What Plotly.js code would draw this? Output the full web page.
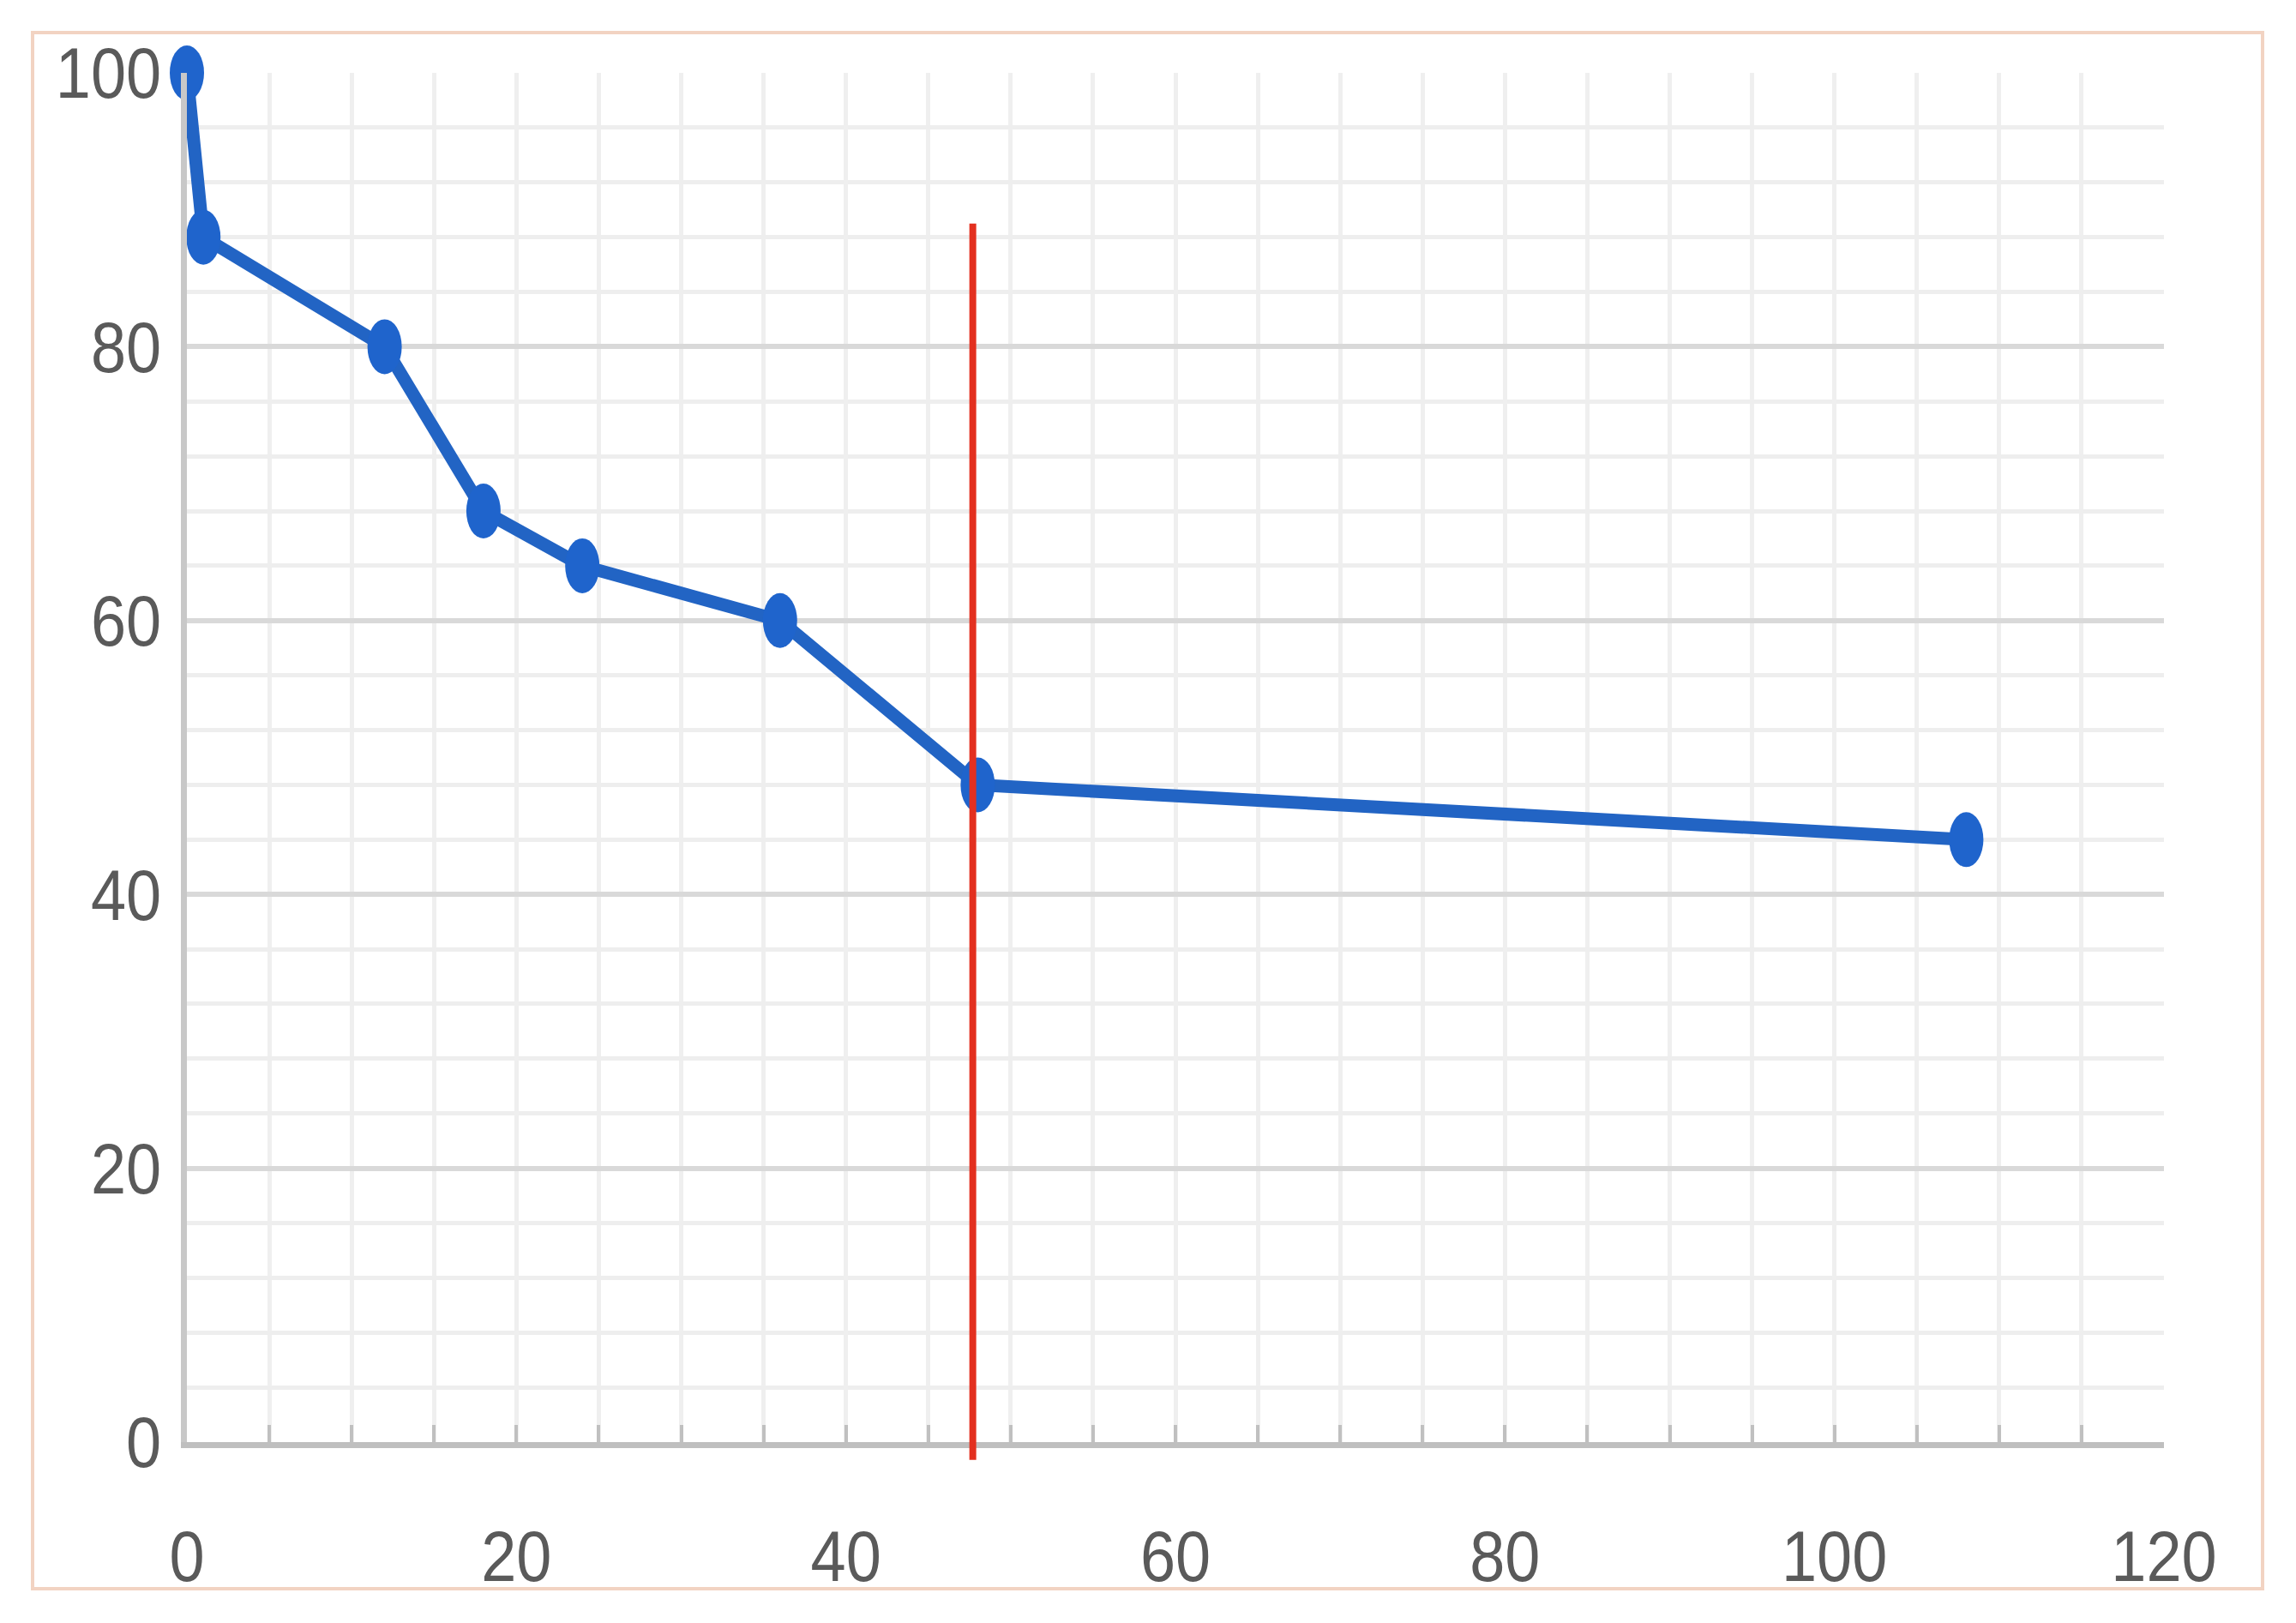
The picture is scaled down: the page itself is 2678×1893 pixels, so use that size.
<!DOCTYPE html>
<html>
<head>
<meta charset="utf-8">
<script src="https://cdn.plot.ly/plotly-3.0.1.min.js"></script>
<style>
  html, body { margin: 0; padding: 0; background: #ffffff; }
  #chart { width: 2678px; height: 1893px; }
</style>
</head>
<body>
<div id="chart"></div>
<script>
// values
const hours = [0, 1, 12, 18, 24, 36, 48, 108];
const percent = [100, 88, 80, 68, 64, 60, 48, 44];
const cutX = [47.7, 47.7];
const cutY = [-1.3, 89];
const xTicks = [0, 20, 40, 60, 80, 100, 120];
const yTicks = [0, 20, 40, 60, 80, 100];
const xMax = 120, yMax = 100;

// page geometry (pixels)
const W = 2678, H = 1893;
const M = { l: 218, r: 154, t: 85, b: 211 };
const plotW = W - M.l - M.r;
const plotH = H - M.t - M.b;
function px2paperX(p) { return (p - M.l) / plotW; }
function px2paperY(p) { return (H - M.b - p) / plotH; }

const labelFont = { family: '"Liberation Sans", Arial, sans-serif', size: 84, color: '#5a5a5a' };

const curve = {
    x: hours,
    y: percent,
    type: 'scatter',
    mode: 'lines+markers',
    line: { color: '#2264c4', width: 15 },
    marker: { color: '#1f64cc', size: 40 },
    cliponaxis: false,
    showlegend: false
};

const layout = {
    width: W,
    height: H,
    margin: M,
    paper_bgcolor: '#ffffff',
    plot_bgcolor: '#ffffff',
    font: labelFont,
    showlegend: false,
    xaxis: {
        range: [0, xMax],
        tickvals: xTicks,
        ticktext: xTicks.map(String),
        tickfont: labelFont,
        ticks: 'inside',
        ticklen: 20,
        tickwidth: 4,
        tickcolor: '#c0c0c0',
        ticklabelstandoff: 54,
        showgrid: true,
        gridcolor: '#efefef',
        gridwidth: 5,
        zeroline: false,
        showline: true,
        linecolor: '#bfbfbf',
        linewidth: 7,
        minor: { dtick: 5, showgrid: true, gridcolor: '#efefef', gridwidth: 5, ticks: 'inside', ticklen: 20, tickwidth: 4, tickcolor: '#c0c0c0' }
    },
    yaxis: {
        range: [0, yMax],
        tickvals: yTicks,
        ticktext: yTicks.map(String),
        tickfont: labelFont,
        ticks: '',
        ticklabelstandoff: 6,
        showgrid: true,
        gridcolor: '#d9d9d9',
        gridwidth: 6,
        zeroline: false,
        showline: true,
        linecolor: '#c8c8c8',
        linewidth: 7,
        minor: { dtick: 4, showgrid: true, gridcolor: '#eeeeee', gridwidth: 5 }
    },
    shapes: [
        {
            // outer frame
            type: 'rect', xref: 'paper', yref: 'paper',
            x0: px2paperX(38), x1: px2paperX(2639),
            y0: px2paperY(1853), y1: px2paperY(38),
            line: { color: '#f2d3c2', width: 4 },
            fillcolor: 'rgba(0,0,0,0)',
            layer: 'below'
        },
        {
            // red cut-off line, runs a bit below the axis so it goes on paper coords
            type: 'line', xref: 'paper', yref: 'paper',
            x0: cutX[0] / xMax, x1: cutX[1] / xMax,
            y0: cutY[0] / yMax, y1: cutY[1] / yMax,
            line: { color: '#e3301f', width: 8 },
            layer: 'above'
        }
    ]
};

Plotly.newPlot('chart', [curve], layout, { displayModeBar: false, staticPlot: true }).then(function (gd) {
    // narrow the tick labels like the original's condensed font
    gd.querySelectorAll('.xtick text, .ytick text').forEach(function (t) {
        const w = t.getComputedTextLength();
        t.setAttribute('textLength', w * 0.88);
        t.setAttribute('lengthAdjust', 'spacingAndGlyphs');
    });
    // markers in the original are tall ovals
    gd.querySelectorAll('.scatterlayer .point').forEach(function (p) {
        const tr = p.getAttribute('transform') || '';
        p.setAttribute('transform', tr + ' scale(1,1.6)');
    });
});
</script>
</body>
</html>
